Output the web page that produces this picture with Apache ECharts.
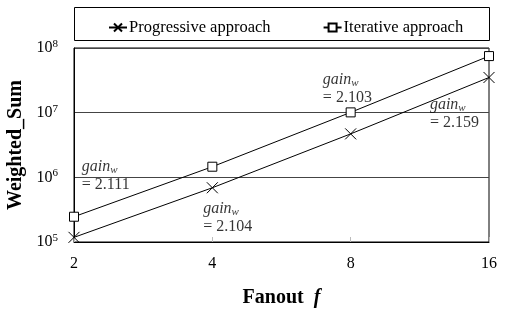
<!DOCTYPE html>
<html><head><meta charset="utf-8">
<script src="https://cdn.jsdelivr.net/npm/echarts@6/dist/echarts.min.js"></script>
<style>html,body{margin:0;padding:0;background:#fff}#c{width:513px;height:319px}</style>
</head><body><div id="c"></div>
<script>
const fanout = [2, 4, 8, 16];
const progressive = [1.18e5, 6.9e5, 4.7e6, 3.5e7];
const iterative = [2.46e5, 1.46e6, 1.01e7, 7.5e7];
const seriesNames = ['Progressive approach', 'Iterative approach'];
const yTicks = [1e5, 1e6, 1e7, 1e8];
const noteValues = ['2.111', '2.104', '2.103', '2.159'];
const noteX = [2.08, 3.82, 6.96, 11.9];
const noteY = [1.99e6, 4.46e5, 4.4e7, 1.81e7];

const FONT = '"Liberation Serif", "Times New Roman", serif';
const crossPath = 'path://M0,0L10,10M10,0L0,10';
const chart = echarts.init(document.getElementById('c'), null, {renderer: 'canvas'});
chart.setOption({
  animation: false,
  backgroundColor: '#fff',
  textStyle: {fontFamily: FONT},
  grid: {left: 74, right: 24, top: 48, bottom: 77, show: true, borderColor: '#000', borderWidth: 1,
         containLabel: false, outerBoundsMode: 'none'},
  graphic: [{type: 'rect', shape: {x: 74.5, y: 7.5, width: 415, height: 33}, style: {fill: 'none', stroke: '#000', lineWidth: 1}}],
  legend: {
    top: 14, left: 103, itemGap: 52, itemWidth: 18, itemHeight: 10,
    textStyle: {fontFamily: FONT, fontSize: 16.5, color: '#000', padding: [0, 0, 0, -3]},
    data: seriesNames
  },
  xAxis: {
    type: 'log', logBase: 2, min: 2, max: 16,
    name: '{b|Fanout }{i| f}', nameLocation: 'middle', nameGap: 46,
    nameTextStyle: {rich: {b: {fontFamily: FONT, fontSize: 20, fontWeight: 'bold', color: '#000'}, i: {fontFamily: FONT, fontSize: 20, fontWeight: 'bold', fontStyle: 'italic', color: '#000'}}},
    axisLine: {lineStyle: {color: '#000'}},
    axisTick: {show: true, inside: true, length: 5, lineStyle: {color: '#bbb'}},
    axisLabel: {fontFamily: FONT, fontSize: 16, color: '#000', margin: 14},
    splitLine: {show: false}
  },
  yAxis: {
    type: 'log', min: 1e5, max: 1e8,
    name: 'Weighted_Sum', nameLocation: 'middle', nameGap: 47,
    nameTextStyle: {fontFamily: FONT, fontSize: 20, fontWeight: 'bold', color: '#000'},
    axisLine: {lineStyle: {color: '#000'}},
    axisTick: {show: false},
    axisLabel: {
      margin: 16,
      formatter: v => { const e = Math.round(Math.log10(v)); return yTicks.some(t => Math.abs(t - v) / t < 1e-6) ? '{b|10}{s|' + e + '}' : ''; },
      rich: {b: {fontFamily: FONT, fontSize: 16, color: '#000'}, s: {fontFamily: FONT, fontSize: 11, color: '#000', verticalAlign: 'top', padding: [0, 0, 8, 0]}}
    },
    splitLine: {show: true, lineStyle: {color: '#444', width: 1}}
  },
  series: [
    {name: seriesNames[0], type: 'line', data: fanout.map((f, i) => [f, progressive[i]]),
     symbol: crossPath, symbolSize: 11, color: '#000',
     lineStyle: {color: '#000', width: 1}, itemStyle: {color: '#000', borderColor: '#000', borderWidth: 1}},
    {name: seriesNames[1], type: 'line', data: fanout.map((f, i) => [f, iterative[i]]),
     symbol: 'rect', symbolSize: 9, color: '#000',
     lineStyle: {color: '#000', width: 1}, itemStyle: {color: '#fff', borderColor: '#000', borderWidth: 1}},
    {name: 'notes', type: 'scatter', symbolSize: 0, silent: true,
     data: noteX.map((x, i) => ({value: [x, noteY[i]], v: noteValues[i]})),
     label: {
       show: true, position: [0, 0], align: 'left', verticalAlign: 'top',
       formatter: p => '{g|gain}{w|w}\n{n|= ' + p.data.v + '}',
       rich: {
         g: {fontFamily: FONT, fontSize: 16, fontStyle: 'italic', color: '#000', lineHeight: 18},
         w: {fontFamily: FONT, fontSize: 11, fontStyle: 'italic', color: '#000', verticalAlign: 'bottom', padding: [6, 0, 0, 0]},
         n: {fontFamily: FONT, fontSize: 16, color: '#000', lineHeight: 18}
       }
     }}
  ]
});
</script></body></html>
